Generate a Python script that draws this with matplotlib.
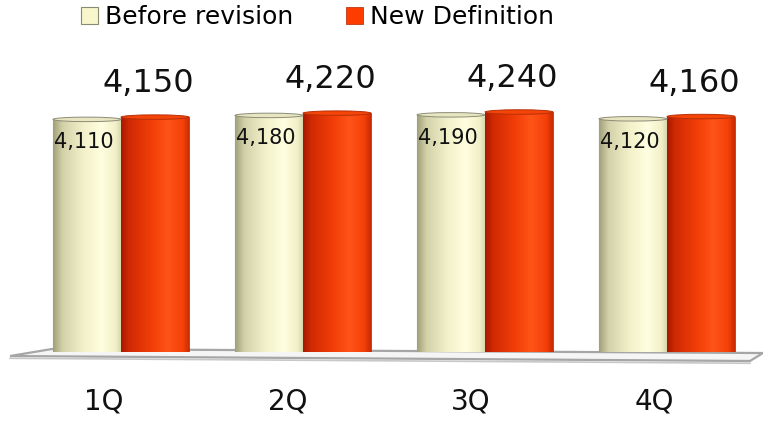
import matplotlib
matplotlib.use("Agg")
import matplotlib.pyplot as plt
import numpy as np
from matplotlib.colors import LinearSegmentedColormap
from matplotlib.patches import Ellipse, Polygon, PathPatch
from matplotlib.path import Path

quarters = ["1Q", "2Q", "3Q", "4Q"]
before_revision = [4110, 4180, 4190, 4120]
new_definition = [4150, 4220, 4240, 4160]
series_names = ["Before revision", "New Definition"]

cream = "#f7f6cc"
red = "#ff3c00"

# horizontal shading for the cylinder bodies
cream_cmap = LinearSegmentedColormap.from_list(
    "cream", [(0.0, "#a09f78"), (0.14, "#d2d1a8"), (0.45, "#f2f1ca"),
              (0.72, "#fffee0"), (0.92, "#f1f0c8"), (1.0, "#d8d7b0")])
red_cmap = LinearSegmentedColormap.from_list(
    "red", [(0.0, "#a81800"), (0.12, "#d02a04"), (0.45, "#f23e08"),
            (0.68, "#ff5418"), (0.9, "#f4400a"), (1.0, "#c82a02")])

fig = plt.figure(figsize=(7.63, 4.23), dpi=100)
# axes bottom sits on the floor line, 1 data unit ~ 0.0566 px
ax = fig.add_axes([0, 71 / 423, 1, 300 / 423])
ax.axis("off")

x = np.arange(len(quarters))
w = 68 / 182
cap_h = 4.5 / 0.0566

# floor slab
floor = Polygon([(-111 / 182, -71), (629 / 182, -159), (642 / 182, -18), (-69 / 182, 53)],
                closed=True, facecolor="#f5f5f5", edgecolor="#a6a6a6", lw=1.6, zorder=1,
                clip_on=False)
ax.add_patch(floor)
ax.plot([-111 / 182, 629 / 182], [-71 - 40, -159 - 40], color="#c8c8c8", lw=1.2,
        zorder=1, clip_on=False)

bars_a = ax.bar(x - w / 2, before_revision, w, color=cream, edgecolor="#8a8a70", lw=0.8,
                zorder=2, label=series_names[0])
bars_b = ax.bar(x + w / 2, new_definition, w, color=red, edgecolor="#b02200", lw=0.5,
                zorder=2, label=series_names[1])

grad = np.linspace(0, 1, 256).reshape(1, -1)
for bars, cmap, cap_face, cap_edge in [(bars_a, cream_cmap, "#e8e6c0", "#8c8c78"),
                                       (bars_b, red_cmap, "#f44408", "#b83008")]:
    for bar in bars:
        x0, bw, h = bar.get_x(), bar.get_width(), bar.get_height()
        # body outline with rounded base
        t = np.linspace(np.pi, 2 * np.pi, 40)
        bx = x0 + bw / 2 + bw / 2 * np.cos(t)
        by = cap_h / 2 * np.sin(t)
        verts = list(zip(bx, by)) + [(x0 + bw, h), (x0, h), (x0, 0)]
        body = PathPatch(Path(verts), facecolor="none", edgecolor="none",
                         transform=ax.transData)
        ax.add_patch(body)
        im = ax.imshow(grad, cmap=cmap, aspect="auto", extent=[x0, x0 + bw, -cap_h / 2, h],
                       zorder=3, interpolation="bilinear")
        im.set_clip_path(body)
        ax.add_patch(Ellipse((x0 + bw / 2, h), bw, cap_h, facecolor=cap_face,
                             edgecolor=cap_edge, lw=0.7, zorder=4))

ax.set_xlim(-121 / 182, 3 + 96 / 182)
ax.set_ylim(0, 300 / 0.0566)

for bar, v in zip(bars_a, before_revision):
    ax.annotate(f"{v:,}", (bar.get_x() + bar.get_width() / 2, v), xytext=(-3, -23),
                textcoords="offset pixels", ha="center", va="center", fontsize=15,
                color="#111111", zorder=5)

for bar, v in zip(bars_b, new_definition):
    ax.annotate(f"{v:,}", (bar.get_x() + bar.get_width() / 2, v), xytext=(-7, 25),
                textcoords="offset pixels", ha="center", va="baseline", fontsize=23,
                color="#111111", zorder=5)

for i, q in enumerate(quarters):
    ax.annotate(q, (x[i], 0), xytext=(-17 + i * 1.5, -49), textcoords="offset pixels",
                ha="center", va="center", fontsize=20, color="#111111",
                annotation_clip=False)

fig.legend(handles=[bars_a, bars_b], labels=series_names, loc="center",
           bbox_to_anchor=(0.416, 0.959), ncol=2, frameon=False, fontsize=18,
           handlelength=0.68, handleheight=0.68, handletextpad=0.28,
           columnspacing=2.1, borderpad=0, borderaxespad=0)

fig.savefig("out.png", dpi=100)
